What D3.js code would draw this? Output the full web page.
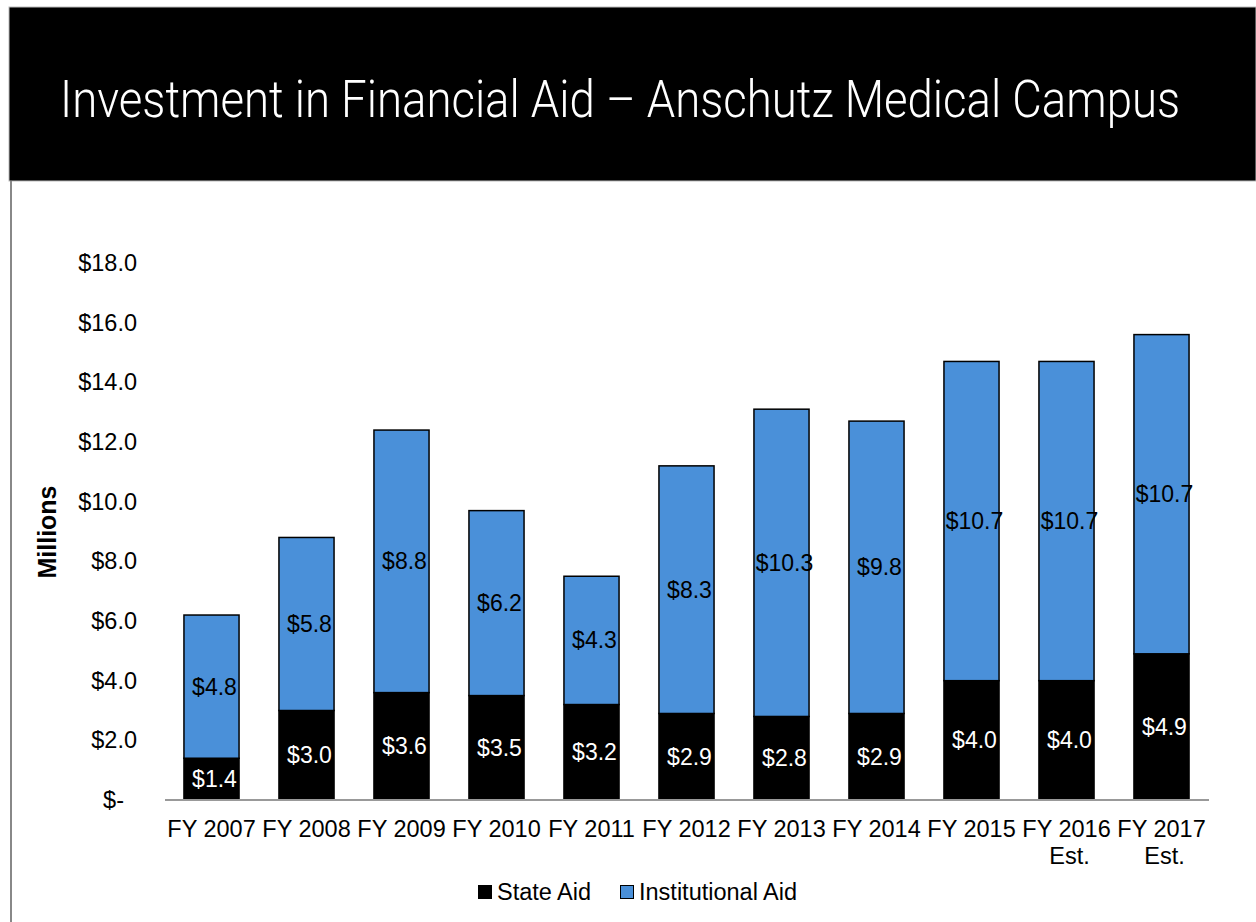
<!DOCTYPE html>
<html>
  <head>
    <meta charset="utf-8">
    <title>Investment in Financial Aid</title>
    <script src="https://cdnjs.cloudflare.com/ajax/libs/d3/7.8.5/d3.min.js"></script>
    <style>
      body { margin: 0; background: #fff; }
      text { font-family: "Liberation Sans", Arial, sans-serif; }
    </style>
  </head>
  <body>
    <script>

      // data (millions of dollars)
      var years = ["FY 2007", "FY 2008", "FY 2009", "FY 2010", "FY 2011", "FY 2012",
                   "FY 2013", "FY 2014", "FY 2015", "FY 2016 Est.", "FY 2017 Est."];
      var stateAid = [1.4, 3.0, 3.6, 3.5, 3.2, 2.9, 2.8, 2.9, 4.0, 4.0, 4.9];
      var institutionalAid = [4.8, 5.8, 8.8, 6.2, 4.3, 8.3, 10.3, 9.8, 10.7, 10.7, 10.7];
      var yTicks = [0, 2, 4, 6, 8, 10, 12, 14, 16, 18];
      var seriesNames = ["State Aid", "Institutional Aid"];
      var seriesColors = ["#000000", "#4a90d9"];
      var labelColors = ["#ffffff", "#000000"];

      var width = 1256, height = 922;
      var plot = { left: 164, right: 1209, top: 263, bottom: 800 };

      var svg = d3.select("body").append("svg")
        .attr("width", width)
        .attr("height", height);

      // header band
      svg.append("rect")
        .attr("x", 9).attr("y", 7)
        .attr("width", width - 9).attr("height", 174)
        .attr("fill", "#000")
        .attr("stroke", "#bbb").attr("stroke-width", 1);
      svg.append("line")
        .attr("x1", 11).attr("x2", 11)
        .attr("y1", 181).attr("y2", height)
        .attr("stroke", "#888").attr("stroke-width", 2);

      var title = svg.append("text")
        .attr("transform", "translate(620,117) scale(1,1.13)")
        .attr("text-anchor", "middle")
        .style("font-family", "Roboto, 'Liberation Sans', sans-serif")
        .style("font-weight", 300)
        .style("font-size", "48px")
        .attr("fill", "#fff")
        .text("Investment in Financial Aid \u2013 Anschutz Medical Campus");
      // fit title to the width it has in the picture
      var tw = title.node().getComputedTextLength();
      title.style("font-size", (48 * 1120 / tw) + "px");

      // scales
      var xScale = d3.scaleBand().domain(years).range([plot.left, plot.right]).paddingInner(0.42).paddingOuter(0.21);
      var yScale = d3.scaleLinear().domain([0, 18]).range([plot.bottom, plot.top]);

      // stacked data
      var rows = years.map(function (y, i) {
        return { year: y, state: stateAid[i], inst: institutionalAid[i] };
      });
      var stack = d3.stack().keys(["state", "inst"]);
      var layers = stack(rows);

      var g = svg.append("g");

      var layerG = g.selectAll("g.layer").data(layers).enter().append("g")
        .attr("class", "layer")
        .attr("fill", function (d, i) { return seriesColors[i]; });

      layerG.selectAll("rect").data(function (d) { return d; }).enter().append("rect")
        .attr("x", function (d) { return xScale(d.data.year); })
        .attr("y", function (d) { return yScale(d[1]); })
        .attr("width", xScale.bandwidth())
        .attr("height", function (d) { return yScale(d[0]) - yScale(d[1]); })
        .attr("stroke", "#000")
        .attr("stroke-width", 1.5);

      // value labels
      layers.forEach(function (layer, li) {
        g.selectAll("text.v" + li).data(layer).enter().append("text")
          .attr("class", "v" + li)
          .attr("x", function (d) { return xScale(d.data.year) + xScale.bandwidth() / 2 + 3; })
          .attr("y", function (d) { return (yScale(d[0]) + yScale(d[1])) / 2; })
          .attr("dy", "0.35em")
          .attr("text-anchor", "middle")
          .style("font-size", "23px")
          .attr("fill", labelColors[li])
          .text(function (d) { return "$" + (d[1] - d[0]).toFixed(1); });
      });

      // y axis (labels only)
      var yAxisG = svg.append("g")
        .attr("transform", "translate(137,0)")
        .call(d3.axisLeft(yScale).tickValues(yTicks).tickSize(0).tickPadding(0)
          .tickFormat(function (d) { return d === 0 ? "$-" : "$" + d.toFixed(1); }));
      yAxisG.select(".domain").remove();
      yAxisG.selectAll("text")
        .style("font-size", "23.5px")
        .style("font-family", "'Liberation Sans', Arial, sans-serif")
        .attr("fill", "#000")
        .attr("x", function (d) { return d === 0 ? -13 : 0; });

      // x axis
      var xAxisG = svg.append("g")
        .attr("transform", "translate(0," + plot.bottom + ")")
        .call(d3.axisBottom(xScale).tickSize(0).tickPadding(0).tickFormat(""));
      xAxisG.select(".domain")
        .attr("stroke", "#999").attr("stroke-width", 2)
        .attr("d", "M" + (plot.left + 1) + ",0H" + plot.right);
      xAxisG.selectAll(".tick").each(function (d) {
        var parts = d.split(" Est.");
        var t = d3.select(this).append("text")
          .attr("fill", "#000")
          .attr("text-anchor", "middle")
          .style("font-size", "23.5px")
          .style("font-family", "'Liberation Sans', Arial, sans-serif");
        t.append("tspan").attr("x", 0).attr("y", 37).text(parts[0]);
        if (parts.length > 1) {
          t.append("tspan").attr("x", 3).attr("y", 64).text("Est.");
        }
      });

      // y axis title
      svg.append("text")
        .attr("transform", "translate(56,532) rotate(-90)")
        .attr("text-anchor", "middle")
        .style("font-size", "25px")
        .style("font-weight", "bold")
        .text("Millions");

      // legend
      var legendX = [478, 620];
      var legend = svg.selectAll("g.legend").data(seriesNames).enter().append("g")
        .attr("class", "legend")
        .attr("transform", function (d, i) { return "translate(" + legendX[i] + ",892)"; });
      legend.append("rect")
        .attr("x", 0.5).attr("y", -6.5)
        .attr("width", 13).attr("height", 13)
        .attr("fill", function (d, i) { return seriesColors[i]; })
        .attr("stroke", "#000").attr("stroke-width", 1);
      legend.append("text")
        .attr("x", 19).attr("dy", "0.35em")
        .style("font-size", "23.5px")
        .text(function (d) { return d; });

    </script>
  </body>
</html>
